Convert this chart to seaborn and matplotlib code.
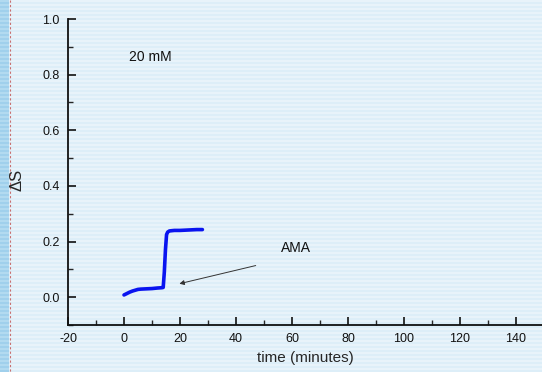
import numpy as np
import pandas as pd
import matplotlib
matplotlib.use("Agg")
import matplotlib.pyplot as plt
import seaborn as sns
from matplotlib.ticker import MultipleLocator

# data
time_min = [0.0, 1.0, 2.0, 3.0, 4.0, 5.0, 6.0, 8.0, 10.0, 12.0, 13.5, 14.0, 14.4, 14.8, 15.2, 15.6, 16.2, 17.0, 18.0, 20.0, 22.0, 24.0, 26.0, 28.0]
delta_s = [0.008, 0.013, 0.018, 0.022, 0.025, 0.028, 0.029, 0.030, 0.031, 0.033, 0.034, 0.035, 0.09, 0.17, 0.225, 0.234, 0.238, 0.239, 0.240, 0.240, 0.241, 0.242, 0.243, 0.243]
x_ticks = [-20, 0, 20, 40, 60, 80, 100, 120, 140]
y_ticks = [0.0, 0.2, 0.4, 0.6, 0.8, 1.0]
x_tick_labels = ["-20", "0", "20", "40", "60", "80", "100", "120", "140"]
y_tick_labels = ["0.0", "0.2", "0.4", "0.6", "0.8", "1.0"]

sns.set_style("ticks")
plt.rcParams['font.family'] = ['Liberation Sans', 'DejaVu Sans']

W, H = 542, 372
fig = plt.figure(figsize=(W / 100, H / 100), dpi=100)

# striped background
bg = fig.add_axes([0, 0, 1, 1], zorder=-10)
stripes = np.zeros((H, W, 3))
base = np.array([0xe8, 0xf3, 0xfa]) / 255
dark = np.array([0xdd, 0xee, 0xf8]) / 255
for r in range(H):
    stripes[r, :, :] = base if (r // 2) % 2 == 0 else dark
left_a = np.array([0xb2, 0xda, 0xf0]) / 255
left_b = np.array([0xa0, 0xd0, 0xec]) / 255
for r in range(H):
    stripes[r, :9, :] = left_a if (r // 2) % 2 == 0 else left_b
bg.imshow(stripes, aspect='auto', interpolation='nearest', extent=[0, W, H, 0])
bg.plot([9.5, 9.5], [0, H], color='#c87070', lw=0.8, ls=(0, (2, 2)))
bg.set_xlim(0, W)
bg.set_ylim(H, 0)
bg.axis('off')

ax = fig.add_axes([68 / W, (H - 325) / H, (W - 68) / W, (325 - 19) / H])
ax.patch.set_alpha(0)

df = pd.DataFrame({"time": time_min, "dS": delta_s})
sns.lineplot(data=df, x="time", y="dS", ax=ax, color="#0a14f0", lw=2.6, sort=False)

ax.set_xlim(-20, -20 + (W - 68) / 2.8)
ax.set_ylim(-0.1, 1.0)
ax.set_xticks(x_ticks)
ax.set_xticklabels(x_tick_labels)
ax.set_yticks(y_ticks)
ax.set_yticklabels(y_tick_labels)
ax.xaxis.set_minor_locator(MultipleLocator(10))
ax.yaxis.set_minor_locator(MultipleLocator(0.1))
ax.tick_params(which='major', direction='in', length=6, width=1.2, labelsize=9, colors='#111111', pad=6)
ax.tick_params(which='minor', direction='in', length=3.5, width=1.0)
for s in ['top', 'right']:
    ax.spines[s].set_visible(False)
for s in ['left', 'bottom']:
    ax.spines[s].set_linewidth(1.3)
    ax.spines[s].set_color('#111111')

ax.set_xlabel("time (minutes)", fontsize=11, labelpad=4)
ax.set_ylabel("ΔS", fontsize=12)
ax.yaxis.set_label_coords((25 - 68) / (W - 68), (325 - 180) / (325 - 19))

ax.text(9.5, 0.865, "20 mM", fontsize=10, ha='center', va='center', color='#111111')
ax.annotate("", xy=(18.8, 0.046), xytext=(48, 0.116),
            arrowprops=dict(arrowstyle='-|>', color='#333333', lw=0.7, mutation_scale=7))
ax.text(61.5, 0.176, "AMA", fontsize=10, ha='center', va='center', color='#111111')

fig.savefig("out.png", dpi=100)
